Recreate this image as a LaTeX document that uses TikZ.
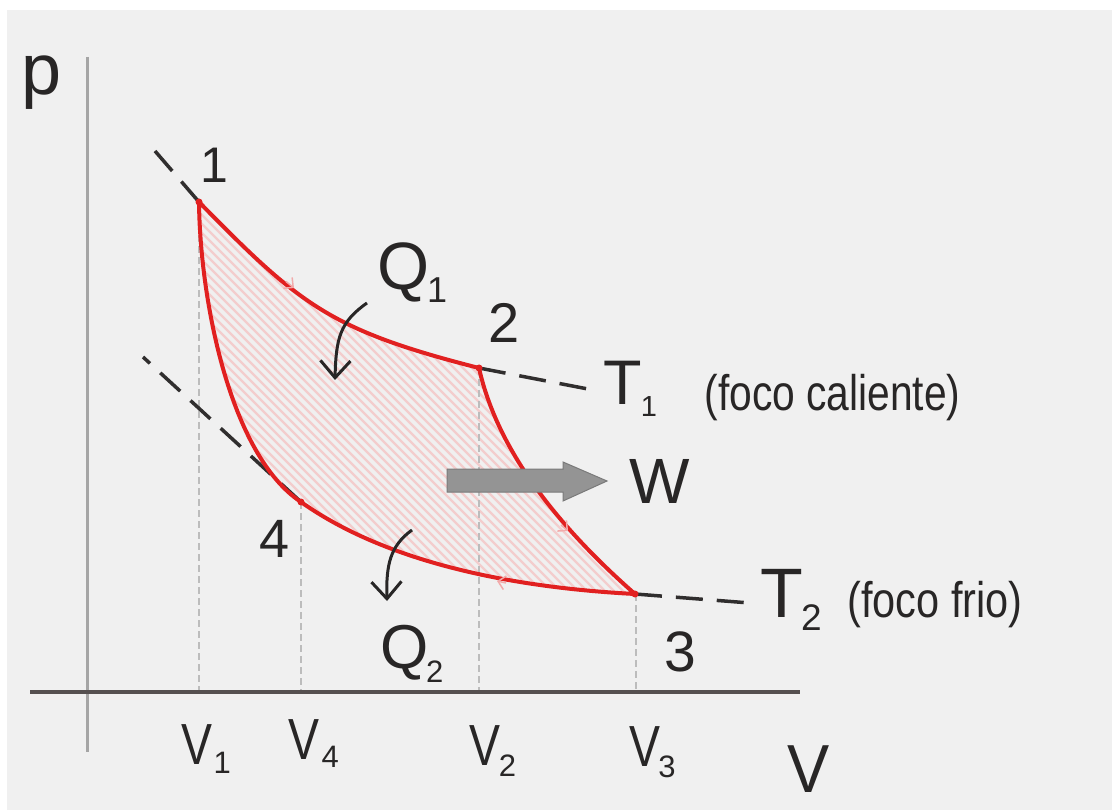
\documentclass[tikz,border=0pt]{standalone}
\usepackage{fontspec}
\setmainfont{Liberation Sans}
\usepackage{graphicx}
\usetikzlibrary{arrows.meta}
\definecolor{bgc}{RGB}{240,240,240}
\definecolor{redc}{RGB}{225,32,32}
\definecolor{hatchc}{RGB}{243,205,205}
\definecolor{txtc}{RGB}{40,38,38}
\definecolor{dashc}{RGB}{48,46,46}
\definecolor{guidec}{RGB}{188,188,188}
\definecolor{vaxc}{RGB}{165,165,165}
\definecolor{haxc}{RGB}{85,80,80}
\definecolor{wfill}{RGB}{148,148,148}
\definecolor{wdraw}{RGB}{122,122,122}
\definecolor{markc}{RGB}{242,170,170}
\newcommand{\fsz}[1]{\fontsize{#1}{#1}\selectfont}
\begin{document}
\begin{tikzpicture}[x=1pt,y=-1pt,
  lbl/.style={inner sep=0pt, outer sep=0pt, anchor=base west, text=txtc},
  ptdot/.style={circle, fill=redc, inner sep=0pt, minimum size=7pt},
  cyc/.style={draw=redc, line width=4pt, line join=round},
  hatchln/.style={draw=hatchc, line width=2.2pt},
  isoext/.style={draw=dashc, line width=3.5pt, dash pattern=on 27pt off 14pt},
  vguide/.style={draw=guidec, line width=2.5pt, dash pattern=on 7pt off 4pt},
  qarrow/.style={draw=txtc, line width=3pt, -{Straight Barb[length=17pt,width=30pt]}},
  dirmark/.style={draw=markc, line width=1.5pt, -{Straight Barb[length=7pt,width=14pt]}},
  warrow/.style={draw=wdraw, fill=wfill, line width=1pt},
]
\useasboundingbox (0,0) rectangle (1112,810);
\fill[white] (0,0) rectangle (1112,810);
\fill[bgc] (7,10) rectangle (1112,810);

% cycle corner points
\coordinate (P1) at (199,202);
\coordinate (P2) at (479,368);
\coordinate (P3) at (635,594);
\coordinate (P4) at (301,502);

% hatching of the enclosed area
\begin{scope}
\clip (P1) .. controls (300,305) and (330,330) .. (P2)
      .. controls (495,440) and (545,515) .. (P3)
      .. controls (520,588) and (390,565) .. (P4)
      .. controls (230,455) and (200,300) .. (P1) -- cycle;
\foreach \c in {-400,-391,...,440} \draw[hatchln] (\c+150,150) -- (\c+650,650);
\end{scope}

% vertical guides
\coordinate (g1) at (199,690);
\coordinate (g4) at (301,690);
\coordinate (g2) at (479,690);
\coordinate (g3) at (636,690);
\draw[vguide] (P1) -- (g1);
\draw[vguide] (P4) -- (g4);
\draw[vguide] (P2) -- (g2);
\draw[vguide] (636,594) -- (g3);

% axes
\coordinate (va) at (87,57);
\coordinate (vb) at (87,752);
\coordinate (ha) at (30,692);
\coordinate (hb) at (800,692);
\draw[draw=vaxc, line width=3pt] (va) -- (vb);
\draw[draw=haxc, line width=4pt] (ha) -- (hb);

% isotherm extensions
\coordinate (e1) at (155,151);
\coordinate (e2) at (588,389);
\coordinate (e3) at (750,603);
\coordinate (e4) at (143,357);
\draw[isoext] (P1) -- (e1);
\draw[isoext] (P2) -- (e2);
\draw[isoext] (P3) -- (e3);
\draw[isoext] (P4) -- (e4);

% cycle
\draw[cyc] (P1) .. controls (300,305) and (330,330) .. (P2)
      .. controls (495,440) and (545,515) .. (P3)
      .. controls (520,588) and (390,565) .. (P4)
      .. controls (230,455) and (200,300) .. (P1) -- cycle;
\node[ptdot] (n1) at (P1) {};
\node[ptdot] (n2) at (P2) {};
\node[ptdot] (n3) at (P3) {};
\node[ptdot] (n4) at (P4) {};

% direction marks
\draw[dirmark] (286,281.5) -- (294,288);
\draw[dirmark] (561,525) -- (568,531);
\draw[dirmark] (506,583) -- (497,581);

% work arrow
\path[warrow] (447,469) -- (563,469) -- (563,462) -- (607,481) -- (563,501) -- (563,492) -- (447,492) -- cycle;

% heat arrows
\coordinate (q1a) at (367,303);
\coordinate (q1b) at (335,380);
\draw[qarrow] (q1a) .. controls (340,322) and (336,338) .. (q1b);
\coordinate (q2a) at (412,530);
\coordinate (q2b) at (387,601);
\draw[qarrow] (q2a) .. controls (390,546) and (386,565) .. (q2b);

% labels
\node[lbl] (lp) at (21,95) {\fsz{72}p};
\node[lbl] (lV) at (787,792) {\scalebox{0.93}[1]{\fsz{68}V}};
\node[lbl] (l1) at (200,183) {\fsz{50}1};
\node[lbl] (l2) at (488,343) {\fsz{56}2};
\node[lbl] (l3) at (664.5,671) {\fsz{57}3};
\node[lbl] (l4) at (259.5,557) {\fsz{54}4};
\node[lbl] (lQ1) at (377,290) {\fsz{67}Q\hspace{-2pt}\raisebox{-13pt}{\fsz{36}1}};
\node[lbl] (lQ2) at (380,668) {\fsz{62}Q\hspace{-2pt}\raisebox{-14pt}{\fsz{31}2}};
\node[lbl] (lT1) at (603.5,405) {\fsz{63}T\hspace{-1pt}\raisebox{-12pt}{\fsz{29}1}};
\node[lbl] (lT2) at (760.4,617) {\fsz{70}T\hspace{-2pt}\raisebox{-13pt}{\fsz{37}2}};
\node[lbl] (lW) at (629.7,503) {\fsz{64}W};
\node[lbl] (lfc) at (704.5,410) {\scalebox{0.815}[1]{\fsz{50}(foco caliente)}};
\node[lbl] (lff) at (847.5,617) {\scalebox{0.83}[1]{\fsz{50}(foco frio)}};
\node[lbl] (lV1) at (181,764) {\scalebox{0.8}[1]{\fsz{58}V}\hspace{1.7pt}\raisebox{-9pt}{\fsz{31}1}};
\node[lbl] (lV4) at (288,759) {\scalebox{0.8}[1]{\fsz{58}V}\hspace{2.7pt}\raisebox{-8pt}{\fsz{31}4}};
\node[lbl] (lV2) at (469,765) {\scalebox{0.8}[1]{\fsz{58}V}\hspace{-1pt}\raisebox{-11pt}{\fsz{31}2}};
\node[lbl] (lV3) at (629,766) {\scalebox{0.8}[1]{\fsz{58}V}\hspace{-1.5pt}\raisebox{-11pt}{\fsz{31}3}};
\end{tikzpicture}
\end{document}
